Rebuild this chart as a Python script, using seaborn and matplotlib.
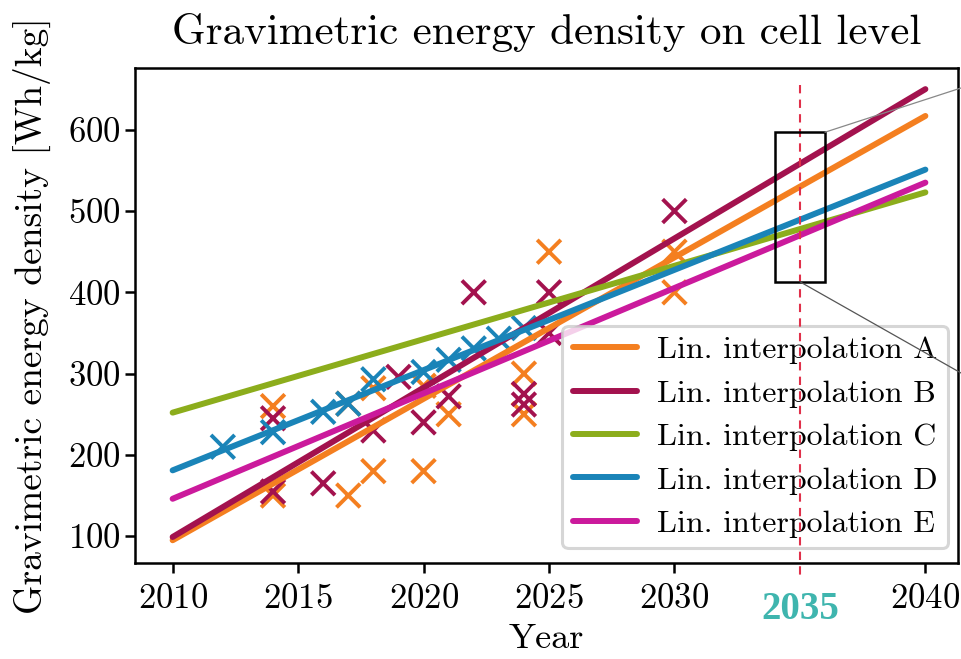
import numpy as np
import pandas as pd
import matplotlib
matplotlib.use("Agg")
import matplotlib.pyplot as plt
from matplotlib.patches import Rectangle, ConnectionPatch
import seaborn as sns

# Fitted trend lines (value at start year and at end year)
line_names = ["Lin. interpolation A", "Lin. interpolation B", "Lin. interpolation C",
              "Lin. interpolation D", "Lin. interpolation E"]
line_years = [2010, 2040]
line_start = [95, 99, 252, 181, 146]
line_end = [617, 650, 523, 551, 535]
line_colors = ["#f47f20", "#a3124e", "#8cad1c", "#1a84b8", "#cb1a9c"]

# Reported cell values per source
years_a = [2014, 2014, 2017, 2017, 2018, 2018, 2020, 2020, 2021, 2024, 2024, 2025, 2030, 2030]
vals_a = [260, 150, 263, 150, 282, 180, 285, 180, 250, 300, 250, 450, 450, 400]
years_b = [2014, 2014, 2016, 2018, 2019, 2020, 2021, 2022, 2024, 2024, 2025, 2025, 2030]
vals_b = [245, 155, 165, 230, 296, 240, 272, 400, 275, 262, 400, 350, 500]
years_d = [2012, 2014, 2016, 2017, 2018, 2020, 2021, 2022, 2023, 2024]
vals_d = [210, 228, 253, 263, 293, 302, 317, 331, 343, 356]

x_ticks = [2010, 2015, 2020, 2025, 2030, 2040]
y_ticks = [100, 200, 300, 400, 500, 600]
highlight_year = 2035
zoom_box = (2034, 413, 2036, 597)

sns.set_style("ticks")
plt.rcParams["font.family"] = ["cmr10", "DejaVu Sans"]
plt.rcParams["axes.formatter.use_mathtext"] = True
plt.rcParams["mathtext.fontset"] = "cm"
plt.rcParams["text.color"] = "black"
plt.rcParams["axes.labelcolor"] = "black"
plt.rcParams["axes.titlecolor"] = "black"

W, H = 961, 659
fig = plt.figure(figsize=(W / 100, H / 100), dpi=100)
ax = fig.add_axes([135 / W, (H - 563) / H, (958 - 135) / W, (563 - 68) / H])

pts = pd.DataFrame({
    "year": years_a + years_b + years_d,
    "value": vals_a + vals_b + vals_d,
    "src": ["A"] * len(years_a) + ["B"] * len(years_b) + ["D"] * len(years_d),
})
sns.scatterplot(data=pts, x="year", y="value", hue="src",
                palette={"A": line_colors[0], "B": line_colors[1], "D": line_colors[3]},
                marker="x", s=290, linewidth=2.8, legend=False, ax=ax, zorder=2)

lines = pd.DataFrame({
    "year": line_years * len(line_names),
    "value": [v for s, e in zip(line_start, line_end) for v in (s, e)],
    "series": [n for n in line_names for _ in line_years],
})
sns.lineplot(data=lines, x="year", y="value", hue="series", hue_order=line_names,
             palette=line_colors, linewidth=4.3, ax=ax, zorder=3)

ax.set_xlim(2008.5, 2041.3)
ax.set_ylim(67, 676)
ax.set_xticks(x_ticks)
ax.set_yticks(y_ticks)
ax.tick_params(axis="both", labelsize=25, length=7, width=1.8, colors="black")
ax.tick_params(axis="x", pad=8)
for s in ax.spines.values():
    s.set_linewidth(1.8)
    s.set_color("black")

ax.set_title("Gravimetric energy density on cell level", fontsize=31, pad=17,
             color="black")
ax.set_xlabel("Year", fontsize=26, labelpad=6, color="black")
ax.set_ylabel("Gravimetric energy density [Wh/kg]", fontsize=27, labelpad=12,
              color="black")

leg = ax.legend(loc="lower right", bbox_to_anchor=(0.988, 0.03), fontsize=23,
                handlelength=2.0, labelspacing=0.47, borderpad=0.32,
                handletextpad=0.65, borderaxespad=0.0, frameon=True,
                fancybox=True, framealpha=0.8, edgecolor="#cccccc",
                labelcolor="black")
leg.get_frame().set_linewidth(2.2)
for h in leg.get_lines():
    h.set_linewidth(4.3)

# Target year marker and zoom window
ax.plot([highlight_year, highlight_year], [655, 52], color="#e0304a", lw=1.5,
        ls=(0, (4, 3)), clip_on=False, zorder=6)
ax.text(highlight_year, 32, str(highlight_year), ha="center", va="top",
        fontsize=28, fontweight="bold", family="Liberation Serif",
        color="#3fb5ae", transform=ax.transData, clip_on=False)
x0, y0, x1, y1 = zoom_box
ax.add_patch(Rectangle((x0, y0), x1 - x0, y1 - y0, fill=False, ec="black",
                       lw=1.8, zorder=7))
fig.add_artist(ConnectionPatch(xyA=(x1, y1), coordsA=ax.transData,
                               xyB=(1.0, 1 - 88 / H), coordsB=fig.transFigure,
                               color="#888888", lw=0.9, zorder=7))
fig.add_artist(ConnectionPatch(xyA=(highlight_year, y0), coordsA=ax.transData,
                               xyB=(1.0, 1 - 373 / H), coordsB=fig.transFigure,
                               color="#555555", lw=0.9, zorder=7))

fig.savefig("out.png", dpi=100)
